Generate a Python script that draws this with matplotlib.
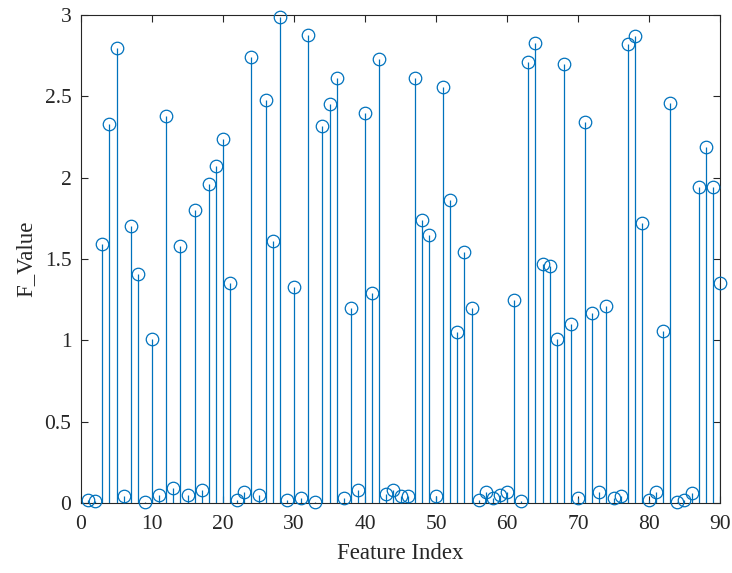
# stem plot of F values per feature index
import numpy as np
import matplotlib.pyplot as plt

# ── DATA ─────────────────────────────────────────────────
feature_index = np.arange(1, 91)
f_values = [
    0.02, 0.01, 1.59, 2.33, 2.80, 0.04, 1.70, 1.41, 0.005, 1.01,
    0.05, 2.38, 0.09, 1.58, 0.05, 1.80, 0.08, 1.96, 2.07, 2.24,
    1.35, 0.02, 0.07, 2.74, 0.05, 2.48, 1.61, 2.99, 0.02, 1.33,
    0.03, 2.88, 0.005, 2.32, 2.45, 2.61, 0.03, 1.20, 0.08, 2.40,
    1.29, 2.73, 0.055, 0.08, 0.045, 0.04, 2.61, 1.74, 1.65, 0.04,
    2.56, 1.86, 1.05, 1.54, 1.20, 0.02, 0.07, 0.03, 0.05, 0.07,
    1.25, 0.01, 2.71, 2.83, 1.47, 1.46, 1.01, 2.70, 1.10, 0.03,
    2.34, 1.17, 0.07, 1.21, 0.03, 0.04, 2.82, 2.87, 1.72, 0.02,
    0.07, 1.06, 2.46, 0.005, 0.02, 0.06, 1.94, 2.19, 1.94, 1.35,
]

BLUE = "#0072BD"
plt.rcParams["font.family"] = ["Liberation Serif", "DejaVu Serif"]

# ── PLOT ─────────────────────────────────────────────────
fig = plt.figure(figsize=(7.32, 5.73), dpi=100)
ax = fig.add_axes([0.1107, 0.1222, 0.8729, 0.8516])

markers, stems, base = ax.stem(feature_index, f_values, basefmt=" ")
plt.setp(stems, color=BLUE, linewidth=0.9)
plt.setp(markers, markerfacecolor="none", markeredgecolor=BLUE,
         markersize=9, markeredgewidth=0.9, clip_on=False, zorder=3)

ax.set_xlim(0, 90)
ax.set_ylim(0, 3)
ax.set_xticks(range(0, 91, 10))
ax.set_yticks([0, 0.5, 1, 1.5, 2, 2.5, 3])
ax.set_yticklabels(["0", "0.5", "1", "1.5", "2", "2.5", "3"])
ax.tick_params(direction="in", top=True, right=True, labelsize=15.5,
               length=5, width=0.8, colors="#262626")
ax.tick_params(axis="x", pad=9)
ax.tick_params(axis="y", pad=7)
for s in ax.spines.values():
    s.set_linewidth(0.8)
    s.set_color("#262626")

ax.set_xlabel("Feature Index", fontsize=16.5, color="#262626", labelpad=6)
ax.set_ylabel("F_Value", fontsize=16.5, color="#262626", labelpad=6)

fig.savefig("out.png", dpi=100)
